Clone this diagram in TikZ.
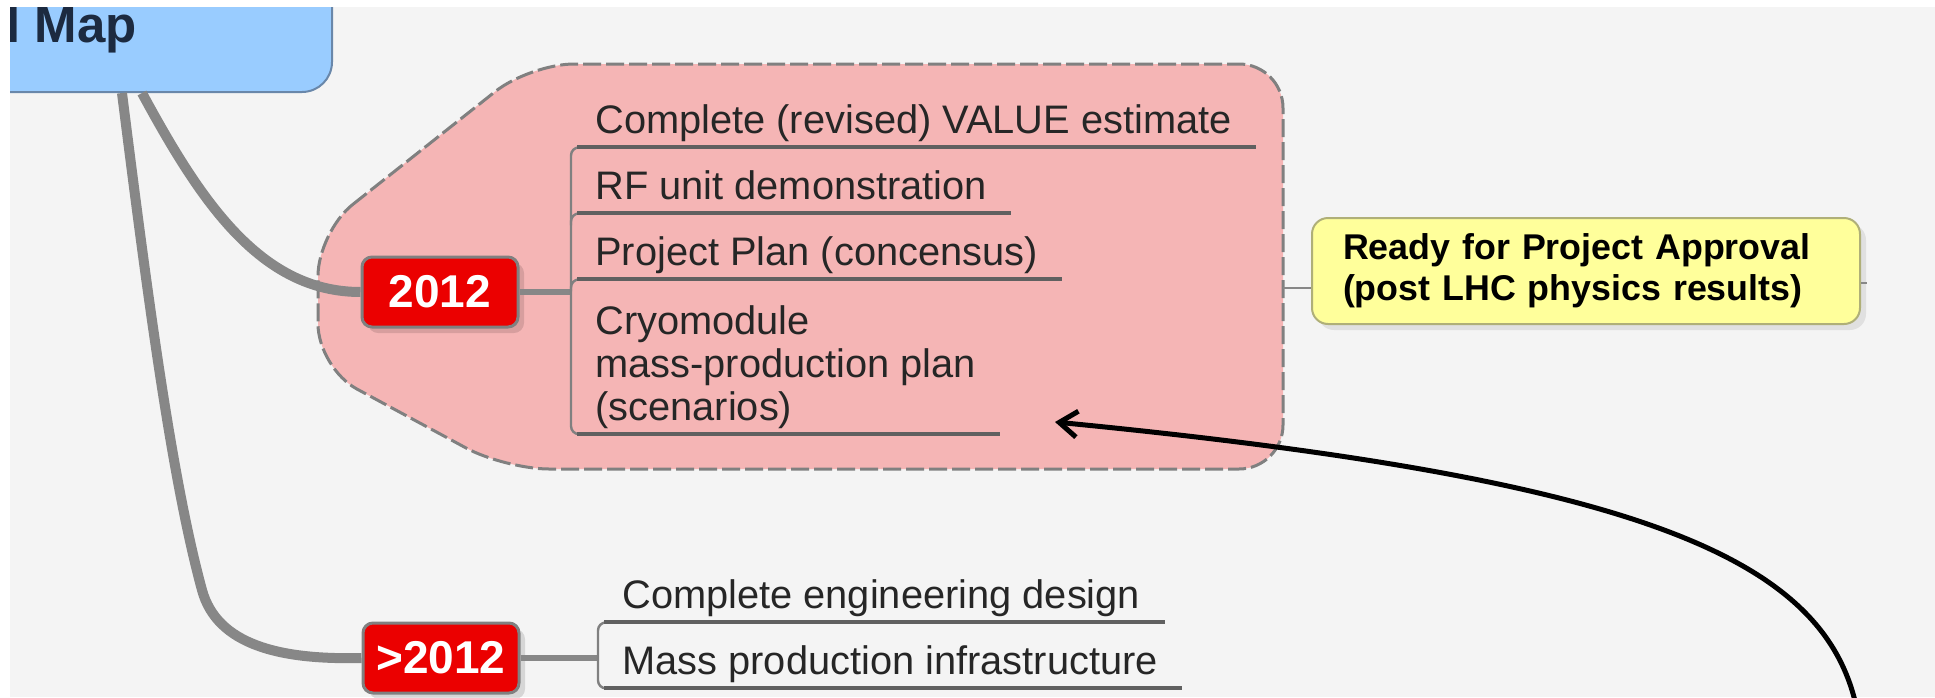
\documentclass[tikz,border=0pt]{standalone}
\usepackage{fontspec}
\setmainfont{Liberation Sans}
\usetikzlibrary{arrows.meta,shadows}
\definecolor{mapblue}{RGB}{153,204,255}
\definecolor{mapedge}{RGB}{105,135,170}
\definecolor{mapnavy}{RGB}{28,42,64}
\definecolor{yearred}{RGB}{235,0,0}
\definecolor{grppink}{RGB}{245,181,181}
\definecolor{notecream}{RGB}{255,255,155}
\definecolor{noteedge}{RGB}{175,175,120}
\definecolor{limb}{RGB}{135,135,135}
\definecolor{paper}{RGB}{244,244,244}

\begin{document}
\begin{tikzpicture}[x=0.5pt, y=-0.5pt,
  limbline/.style={limb, line width=5pt},
  stem/.style={limb, line width=3pt},
  year/.style={rectangle, rounded corners=5pt, fill=yearred, draw=gray, line width=1.5pt,
    minimum width=78pt, minimum height=35pt, inner sep=0pt, text=white,
    font=\bfseries\fontsize{23}{27}\selectfont,
    drop shadow={shadow xshift=3pt, shadow yshift=-3pt, fill=black, opacity=0.12}},
  item/.style={anchor=base west, inner xsep=12pt, inner ysep=2.75pt, text depth=4.25pt,
    text=black!85, font=\fontsize{19.9}{21.5}\selectfont},
  uline/.style={gray!75!black, line width=2pt},
  rail/.style={gray, line width=1.2pt, rounded corners=4pt},
  note/.style={rectangle, rounded corners=8pt, fill=notecream, draw=noteedge, line width=1pt,
    minimum height=53pt, text width=243pt, align=left, inner xsep=15.5pt,
    font=\bfseries\fontsize{17.9}{20.5}\selectfont,
    drop shadow={shadow xshift=3pt, shadow yshift=-3pt, fill=black, opacity=0.08}},
]
\useasboundingbox (0,0) rectangle (1935,697);
\begin{scope}
\clip (0,0) rectangle (1935,697);
\fill[white] (0,0) rectangle (1935,697);
\fill[paper] (10,7) rectangle (1935,697);

% pink boundary round the 2012 branch
\draw[fill=grppink, draw=gray, line width=1.5pt, dash pattern=on 9pt off 2.5pt,
  rounded corners=22pt]
  (318,232) -- (530,64) -- (1283,64) -- (1283,469) -- (505,469) -- (318,368) -- cycle;

% central topic (only its corner is in view)
\begin{scope}
\clip (10,7) rectangle (1935,697);
\node[rectangle, rounded corners=15pt, fill=mapblue, draw=mapedge, line width=1pt,
  minimum width=200pt, minimum height=70pt, anchor=south east] (root) at (333,93) {};
\node[anchor=base west, inner sep=0pt, text=mapnavy,
  font=\bfseries\fontsize{25.5}{30}\selectfont] (title) at (6,42) {l Map};
\end{scope}

% year topics
\node[year] (y1) at (440,292) {2012};
\node[year] (y2) at (441,658) {>2012};

\draw[limbline] ([xshift=5pt]root.south) .. controls (200,200) and (260,292) .. (y1.west);
\draw[limbline] ([xshift=-5pt]root.south) .. controls (148,300) and (172,480) .. (202,590)
  .. controls (217,645) and (280,660) .. (y2.west);

% 2012 subtopics
\node[item] (t1) at (571,133) {Complete (revised) VALUE estimate};
\node[item] (t2) at (571,199) {RF unit demonstration};
\node[item] (t3) at (571,265) {Project Plan (concensus)};
\node[item, align=left, text depth={}] (t4) at (571,420) {Cryomodule\\mass-production plan\\(scenarios)};

\draw[stem] (y1.east) -- (y1.east -| t1.south west);
\draw[rail] ([xshift=6pt]t1.south west) -- (t1.south west) -- (t4.south west) -- ([xshift=6pt]t4.south west);
\draw[rail] ([xshift=6pt]t2.south west) -- (t2.south west) -- ++(0,12);
\draw[rail] ([xshift=6pt]t3.south west) -- (t3.south west) -- ++(0,12);
\foreach \t in {t1,t2,t3,t4}
  \draw[uline] ([xshift=3pt]\t.south west) -- (\t.south east);

% >2012 subtopics
\node[item] (b1) at (598,608) {Complete engineering design};
\node[item] (b2) at (598,674) {Mass production infrastructure};

\draw[stem] (y2.east) -- (y2.east -| b1.south west);
\draw[rail] ([xshift=6pt]b1.south west) -- (b1.south west) -- (b2.south west) -- ([xshift=6pt]b2.south west);
\foreach \t in {b1,b2}
  \draw[uline] ([xshift=3pt]\t.south west) -- (\t.south east);

% callout on the right
\node[note] (note) at (1586,271) {Ready for Project Approval\\(post LHC physics results)};
\coordinate (grpR) at (1283,288);
\draw[limb, line width=1pt] (grpR) -- (grpR -| note.west);
\draw[limb, line width=1pt] ([yshift=-6pt]note.east) -- ++(6,0);

% hand-drawn pointer
\coordinate (tail) at (1858,715);
\coordinate (tip) at (1055,422);
\draw[line width=2.5pt, -{Straight Barb[length=9pt,width=13pt]}]
  (tail) .. controls (1830,560) and (1650,480) .. (tip);
\end{scope}
\end{tikzpicture}
\end{document}
